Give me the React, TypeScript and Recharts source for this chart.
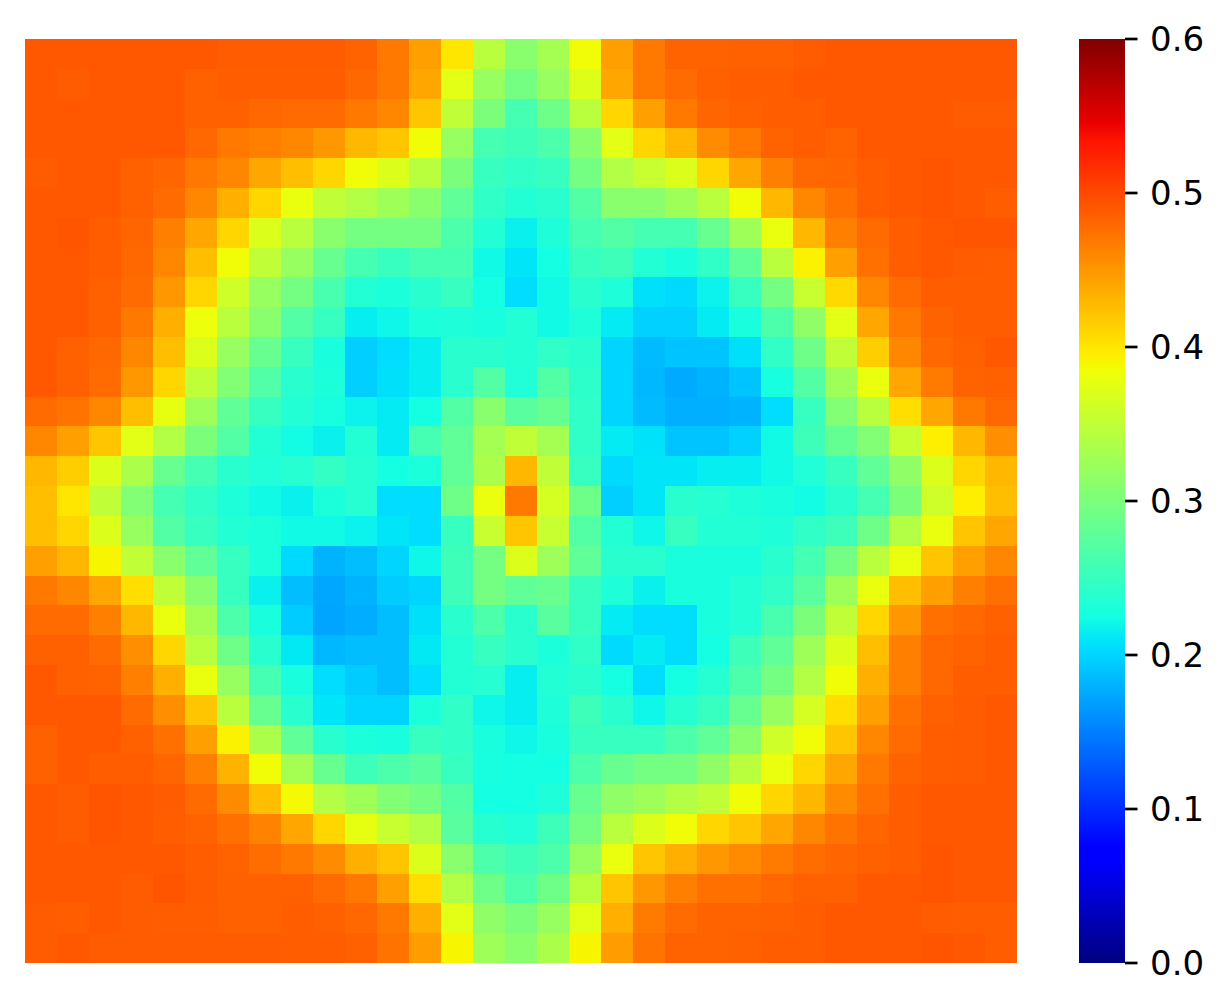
import { BarChart, Bar, Cell, XAxis, YAxis } from "recharts";

// heat values, one list per row, top row first
const row0 = [.49,.49,.49,.49,.49,.49,.488,.488,.488,.488,.483,.47,.445,.4,.345,.31,.33,.385,.445,.47,.483,.483,.485,.485,.488,.49,.49,.49,.49,.49,.49];
const row1 = [.49,.488,.49,.49,.49,.485,.487,.487,.487,.487,.48,.47,.44,.375,.32,.295,.32,.37,.44,.47,.478,.485,.487,.487,.49,.49,.49,.49,.49,.49,.49];
const row2 = [.49,.49,.49,.49,.49,.485,.485,.48,.478,.478,.47,.46,.42,.35,.3,.26,.29,.345,.41,.445,.47,.482,.485,.487,.487,.49,.49,.49,.49,.488,.488];
const row3 = [.49,.49,.49,.49,.49,.48,.47,.465,.46,.45,.43,.42,.385,.32,.26,.255,.265,.31,.375,.41,.43,.458,.47,.483,.487,.483,.49,.49,.49,.49,.49];
const row4 = [.488,.49,.49,.485,.482,.47,.46,.44,.425,.41,.385,.37,.345,.3,.25,.245,.25,.295,.34,.355,.37,.41,.44,.465,.48,.482,.487,.49,.492,.49,.49];
const row5 = [.49,.49,.49,.485,.478,.46,.435,.41,.38,.35,.34,.325,.31,.28,.245,.235,.24,.27,.31,.31,.325,.345,.385,.43,.46,.475,.487,.49,.492,.49,.487];
const row6 = [.49,.492,.487,.482,.465,.44,.41,.37,.345,.31,.295,.295,.295,.265,.235,.217,.232,.26,.27,.26,.26,.285,.325,.38,.43,.465,.478,.487,.49,.492,.492];
const row7 = [.49,.49,.487,.48,.46,.425,.385,.35,.32,.285,.26,.25,.26,.26,.222,.21,.225,.25,.255,.235,.228,.245,.28,.345,.392,.445,.475,.487,.49,.488,.487];
const row8 = [.49,.49,.485,.478,.45,.41,.36,.32,.295,.262,.235,.23,.24,.25,.225,.205,.222,.24,.232,.207,.203,.218,.25,.295,.355,.408,.46,.478,.487,.487,.487];
const row9 = [.49,.49,.485,.47,.435,.383,.345,.31,.27,.25,.215,.22,.23,.232,.228,.235,.222,.232,.213,.198,.198,.213,.228,.265,.315,.375,.44,.47,.483,.487,.487];
const row10 = [.49,.485,.48,.46,.425,.37,.32,.285,.25,.228,.197,.205,.215,.24,.24,.235,.245,.24,.2,.185,.19,.19,.207,.245,.29,.35,.415,.46,.48,.485,.49];
const row11 = [.49,.485,.478,.45,.41,.35,.305,.268,.24,.23,.197,.207,.215,.24,.27,.233,.27,.243,.2,.183,.175,.18,.19,.227,.27,.325,.38,.44,.468,.483,.485];
const row12 = [.478,.473,.46,.425,.378,.325,.28,.25,.235,.227,.218,.213,.225,.27,.31,.275,.285,.245,.2,.185,.178,.178,.18,.205,.25,.305,.345,.405,.44,.47,.48];
const row13 = [.46,.445,.42,.375,.34,.3,.27,.235,.224,.217,.235,.213,.26,.28,.33,.35,.33,.245,.213,.208,.19,.19,.198,.222,.255,.283,.305,.355,.395,.43,.455];
const row14 = [.43,.415,.37,.335,.285,.26,.24,.233,.237,.247,.237,.225,.23,.28,.335,.43,.35,.25,.203,.21,.21,.215,.215,.222,.233,.25,.28,.315,.37,.41,.43];
const row15 = [.425,.4,.35,.305,.26,.245,.232,.222,.217,.23,.237,.205,.205,.29,.38,.47,.365,.29,.197,.21,.24,.237,.232,.228,.224,.24,.26,.3,.36,.395,.425];
const row16 = [.425,.41,.37,.32,.27,.25,.235,.23,.222,.222,.218,.21,.205,.25,.355,.42,.355,.27,.235,.22,.25,.235,.235,.232,.245,.255,.29,.34,.38,.42,.44];
const row17 = [.445,.43,.39,.35,.31,.28,.25,.23,.203,.18,.187,.2,.22,.255,.295,.37,.325,.28,.24,.24,.228,.228,.228,.24,.26,.295,.345,.38,.42,.445,.46];
const row18 = [.47,.46,.44,.405,.35,.31,.25,.217,.187,.173,.18,.195,.2,.255,.295,.28,.285,.25,.232,.217,.228,.228,.235,.245,.275,.325,.38,.425,.445,.465,.475];
const row19 = [.478,.478,.465,.43,.38,.33,.265,.228,.195,.172,.177,.187,.207,.24,.265,.24,.275,.25,.213,.205,.205,.228,.235,.262,.3,.35,.41,.45,.475,.48,.485];
const row20 = [.485,.485,.478,.455,.41,.345,.29,.24,.212,.183,.187,.187,.212,.235,.25,.24,.23,.245,.203,.213,.205,.225,.255,.28,.325,.37,.425,.465,.48,.483,.487];
const row21 = [.49,.485,.483,.465,.435,.38,.32,.26,.228,.205,.195,.187,.205,.235,.237,.215,.235,.24,.225,.205,.225,.237,.265,.295,.34,.385,.435,.465,.48,.487,.487];
const row22 = [.49,.49,.49,.478,.455,.42,.345,.285,.24,.21,.2,.2,.23,.245,.22,.215,.232,.255,.24,.22,.238,.25,.285,.32,.365,.405,.445,.475,.485,.488,.49];
const row23 = [.485,.49,.49,.485,.475,.445,.392,.335,.28,.24,.23,.228,.25,.245,.228,.22,.228,.25,.25,.25,.265,.28,.31,.36,.385,.42,.46,.478,.487,.488,.49];
const row24 = [.485,.49,.487,.487,.482,.465,.432,.385,.33,.285,.255,.265,.275,.25,.227,.225,.225,.265,.285,.295,.295,.315,.345,.38,.41,.44,.47,.483,.487,.488,.49];
const row25 = [.49,.488,.492,.49,.488,.478,.458,.425,.387,.34,.325,.305,.295,.27,.225,.225,.232,.285,.315,.325,.34,.35,.385,.41,.43,.458,.475,.487,.49,.49,.49];
const row26 = [.49,.488,.492,.49,.487,.483,.475,.463,.44,.41,.378,.355,.34,.275,.238,.233,.255,.295,.345,.37,.385,.41,.42,.44,.46,.472,.482,.487,.49,.49,.49];
const row27 = [.49,.49,.49,.49,.49,.487,.483,.477,.47,.458,.435,.42,.37,.31,.265,.255,.265,.32,.38,.42,.435,.45,.458,.468,.477,.482,.485,.487,.492,.49,.49];
const row28 = [.49,.49,.49,.488,.492,.488,.485,.485,.485,.478,.47,.445,.405,.34,.29,.265,.29,.345,.42,.45,.465,.475,.475,.48,.485,.485,.49,.49,.492,.49,.49];
const row29 = [.488,.487,.49,.488,.487,.487,.485,.485,.487,.485,.48,.47,.435,.375,.315,.3,.32,.375,.435,.468,.478,.483,.483,.485,.487,.49,.49,.49,.488,.487,.487];
const row30 = [.488,.49,.488,.488,.488,.488,.488,.488,.487,.487,.485,.473,.447,.39,.325,.31,.335,.39,.447,.473,.483,.483,.485,.487,.487,.49,.49,.49,.492,.49,.487];

const rows = [
  row0, row1, row2, row3, row4, row5, row6, row7, row8, row9, row10,
  row11, row12, row13, row14, row15, row16, row17, row18, row19, row20,
  row21, row22, row23, row24, row25, row26, row27, row28, row29, row30,
];

const colorbarTicks = [0, 0.1, 0.2, 0.3, 0.4, 0.5, 0.6];
const vmax = 0.6;

// matplotlib jet breakpoints, [position, level]
const jetRed = [[0, 0], [0.35, 0], [0.66, 1], [0.89, 1], [1, 0.5]];
const jetGreen = [[0, 0], [0.125, 0], [0.375, 1], [0.64, 1], [0.91, 0], [1, 0]];
const jetBlue = [[0, 0.5], [0.11, 1], [0.34, 1], [0.65, 0], [1, 0]];
const jetStops = [0, 0.11, 0.125, 0.34, 0.35, 0.375, 0.64, 0.65, 0.66, 0.89, 0.91, 1];

const channel = (pts: number[][], t: number) => {
  for (let i = 1; i < pts.length; i++) {
    if (t <= pts[i][0]) {
      const [x0, y0] = pts[i - 1];
      const [x1, y1] = pts[i];
      return y0 + ((t - x0) / (x1 - x0)) * (y1 - y0);
    }
  }
  return pts[pts.length - 1][1];
};

const jet = (t: number) =>
  `rgb(${Math.round(channel(jetRed, t) * 255)},${Math.round(channel(jetGreen, t) * 255)},${Math.round(channel(jetBlue, t) * 255)})`;

// every cell is one unit tall in the stack, the colour carries the value
const table = rows[0].map((_, col) => {
  const entry: Record<string, number> = { col };
  rows.forEach((_, r) => {
    entry[`r${r}`] = 1;
  });
  return entry;
});

// stacks grow upward, so the bottom row has to be drawn first
const rowOrder = rows.map((_, r) => rows.length - 1 - r);

const CrispCell = ({ x, y, width, height, fill }: any) => (
  <rect x={x} y={y} width={width} height={height} fill={fill} shapeRendering="crispEdges" />
);

const colorbarData = [{ name: "scale", value: vmax }];

export default function App() {
  return (
    <div style={{ position: "absolute", left: 0, top: 0, width: 1229, height: 1008, background: "#fff" }}>
      <div style={{ position: "absolute", left: 25, top: 39 }}>
        <BarChart
          width={992}
          height={924}
          data={table}
          barCategoryGap={0}
          barGap={0}
          margin={{ top: 0, right: 0, bottom: 0, left: 0 }}
        >
          <XAxis dataKey="col" hide />
          <YAxis hide type="number" domain={[0, rows.length]} />
          {rowOrder.map((r) => (
            <Bar key={r} dataKey={`r${r}`} stackId="heat" shape={<CrispCell />} isAnimationActive={false}>
              {rows[r].map((v, c) => (
                <Cell key={c} fill={jet(v / vmax)} />
              ))}
            </Bar>
          ))}
        </BarChart>
      </div>
      <div style={{ position: "absolute", left: 1079, top: 19 }}>
        <BarChart
          width={150}
          height={969}
          data={colorbarData}
          barCategoryGap={0}
          margin={{ top: 20, right: 0, bottom: 25, left: 0 }}
        >
          <defs>
            <linearGradient id="jetScale" x1="0" y1="1" x2="0" y2="0">
              {jetStops.map((s) => (
                <stop key={s} offset={s} stopColor={jet(s)} />
              ))}
            </linearGradient>
          </defs>
          <XAxis dataKey="name" hide />
          <YAxis
            orientation="right"
            type="number"
            domain={[0, vmax]}
            ticks={colorbarTicks}
            interval={0}
            width={104}
            axisLine={false}
            tickSize={12.5}
            tickMargin={12.5}
            tickLine={{ stroke: "#000", strokeWidth: 2.7 }}
            tick={{ fill: "#000", fontSize: 34, fontFamily: "DejaVu Sans" }}
            tickFormatter={(v: number) => v.toFixed(1)}
          />
          <Bar dataKey="value" fill="url(#jetScale)" isAnimationActive={false} />
        </BarChart>
      </div>
    </div>
  );
}
